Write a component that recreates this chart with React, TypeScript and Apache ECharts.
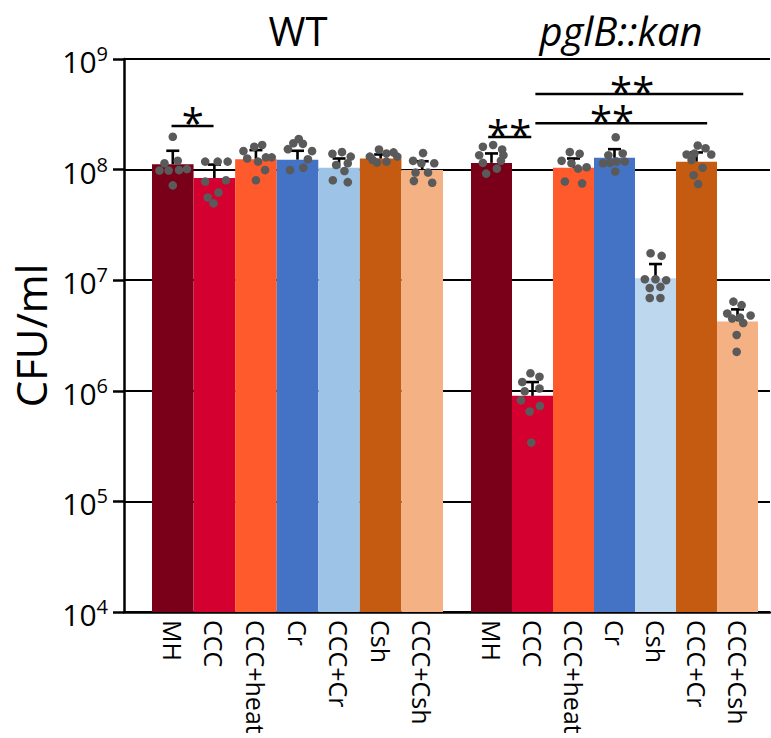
import React, { useEffect, useRef } from "react";
import * as echarts from "echarts";

const FONT = "'Open Sans', 'Noto Sans', sans-serif";

// ---------- data ----------
const groupTitles = ["WT", "pglB::kan"];
const wtCategories = ["MH", "CCC", "CCC+heat", "Cr", "CCC+Cr", "Csh", "CCC+Csh"];
const pglbCategories = ["MH", "CCC", "CCC+heat", "Cr", "Csh", "CCC+Cr", "CCC+Csh"];

const wtColors = ["#7a0019", "#d4002f", "#ff5a2b", "#4472c4", "#9dc3e6", "#c55a11", "#f4b183"];
const pglbColors = ["#7a0019", "#d4002f", "#ff5a2b", "#4472c4", "#bdd7ee", "#c55a11", "#f4b183"];

// bar heights (CFU/ml) and upper end of error bars
const wtMeans = [1.12e8, 8.4e7, 1.24e8, 1.23e8, 1.04e8, 1.26e8, 9.9e7];
const wtErrorTops = [1.48e8, 1.11e8, 1.5e8, 1.48e8, 1.26e8, 1.37e8, 1.19e8];
const pglbMeans = [1.15e8, 9.0e5, 1.04e8, 1.28e8, 1.04e7, 1.18e8, 4.24e6];
const pglbErrorTops = [1.4e8, 1.2e6, 1.26e8, 1.53e8, 1.4e7, 1.43e8, 5.45e6];

// individual replicates: [category index, CFU/ml, jitter within bar]
const wtPoints: [number, number, number][] = [
  [0, 1.98e8, 0.0], [0, 1.2e8, 0.12], [0, 1.14e8, -0.2], [0, 9.8e7, -0.32], [0, 9.9e7, 0.15], [0, 1.01e8, 0.34], [0, 7.2e7, 0.0], [0, 9.8e7, -0.1],
  [1, 1.18e8, -0.22], [1, 1.18e8, 0.08], [1, 1.18e8, 0.32], [1, 7.8e7, -0.22], [1, 8.0e7, 0.28], [1, 6.2e7, 0.1], [1, 5.6e7, -0.16], [1, 4.95e7, -0.02],
  [2, 1.47e8, -0.3], [2, 1.61e8, -0.04], [2, 1.67e8, 0.15], [2, 1.26e8, -0.21], [2, 1.18e8, 0.05], [2, 1.29e8, 0.24], [2, 1.29e8, 0.38], [2, 9.9e7, 0.22], [2, 8.0e7, 0.0],
  [3, 1.53e8, -0.23], [3, 1.73e8, -0.1], [3, 1.89e8, 0.03], [3, 1.71e8, 0.13], [3, 1.47e8, 0.35], [3, 1.24e8, 0.25], [3, 9.9e7, -0.18], [3, 1.04e8, 0.14],
  [4, 1.39e8, -0.16], [4, 1.44e8, 0.07], [4, 1.31e8, 0.28], [4, 1.1e8, -0.07], [4, 1.14e8, 0.21], [4, 9.7e7, 0.13], [4, 8.0e7, -0.15], [4, 7.7e7, 0.21],
  [5, 1.31e8, -0.26], [5, 1.52e8, -0.04], [5, 1.4e8, 0.14], [5, 1.43e8, 0.31], [5, 1.31e8, 0.4], [5, 1.16e8, -0.09], [5, 1.18e8, 0.14], [5, 1.22e8, -0.19],
  [6, 1.2e8, -0.22], [6, 1.41e8, 0.02], [6, 1.14e8, 0.29], [6, 9.4e7, -0.16], [6, 9.4e7, 0.14], [6, 7.9e7, -0.2], [6, 7.6e7, 0.24], [6, 1.14e8, -0.02],
];
const pglbPoints: [number, number, number][] = [
  [0, 1.61e8, -0.21], [0, 1.67e8, 0.04], [0, 1.52e8, 0.26], [0, 1.35e8, -0.3], [0, 1.35e8, 0.29], [0, 1.2e8, 0.23], [0, 1.15e8, -0.21], [0, 1.02e8, 0.13], [0, 9.2e7, -0.13],
  [1, 1.44e6, -0.05], [1, 1.34e6, 0.17], [1, 1.2e6, -0.25], [1, 9.9e5, -0.19], [1, 1.05e6, 0.17], [1, 8.2e5, -0.28], [1, 6.5e5, -0.07], [1, 7.3e5, 0.18], [1, 3.4e5, -0.03],
  [2, 1.44e8, -0.09], [2, 1.2e8, -0.29], [2, 1.39e8, 0.15], [2, 1.14e8, -0.05], [2, 1.02e8, 0.11], [2, 1.05e8, 0.32], [2, 7.8e7, -0.21], [2, 7.5e7, 0.21],
  [3, 1.96e8, 0.03], [3, 1.35e8, -0.15], [3, 1.4e8, 0.2], [3, 1.14e8, -0.28], [3, 1.15e8, -0.11], [3, 1.18e8, 0.05], [3, 1.18e8, 0.25], [3, 9.6e7, 0.02],
  [4, 1.75e7, -0.12], [4, 1.66e7, 0.15], [4, 1.02e7, -0.26], [4, 1.02e7, 0.0], [4, 1.0e7, 0.26], [4, 8.5e6, -0.14], [4, 8.7e6, 0.12], [4, 6.9e6, -0.14], [4, 6.9e6, 0.12],
  [5, 1.65e8, 0.03], [5, 1.56e8, 0.22], [5, 1.37e8, -0.24], [5, 1.37e8, 0.36], [5, 1.22e8, -0.12], [5, 1.04e8, 0.15], [5, 8.9e7, -0.07], [5, 7.4e7, 0.04], [5, 1.4e8, -0.05],
  [6, 6.4e6, -0.1], [6, 5.95e6, 0.1], [6, 5.0e6, -0.25], [6, 4.5e6, -0.13], [6, 4.6e6, 0.06], [6, 4.8e6, 0.32], [6, 4.1e6, 0.14], [6, 3.2e6, -0.02], [6, 2.25e6, -0.02],
];

// significance brackets: [anchor category, level (CFU/ml), from position, to position, label position]
const wtSignificance: number[][] = [[0, 2.48e8, -0.03, 0.98, 0.48]];
const wtSignificanceLabels = ["*"];
const pglbSignificance: number[][] = [
  [0, 1.97e8, -0.08, 0.97, 0.43],
  [0, 2.62e8, 1.07, 5.26, 2.94],
  [0, 4.82e8, 1.07, 6.14, 3.43],
];
const pglbSignificanceLabels = ["**", "**", "**"];

const yMin = 1e4;
const yMax = 1e9;

// ---------- helpers ----------
function bandWidth(api: any, v: number) {
  return api.coord([1, v])[0] - api.coord([0, v])[0];
}

function barSeries(axis: number, means: number[], colors: string[]) {
  return {
    type: "custom",
    xAxisIndex: axis,
    yAxisIndex: axis,
    data: means.map((m, i) => [i, m]),
    encode: { x: 0, y: 1 },
    z: 2,
    renderItem: (params: any, api: any) => {
      const i = api.value(0);
      const v = api.value(1);
      const top = api.coord([i, v]);
      const bottom = api.coord([i, yMin]);
      const bw = bandWidth(api, v);
      return {
        type: "rect",
        shape: { x: top[0] - bw / 2, y: top[1], width: bw, height: bottom[1] - top[1] },
        style: { fill: colors[params.dataIndex] },
      };
    },
  };
}

function errorSeries(axis: number, means: number[], tops: number[]) {
  return {
    type: "custom",
    xAxisIndex: axis,
    yAxisIndex: axis,
    data: means.map((m, i) => [i, m, tops[i]]),
    encode: { x: 0, y: 1 },
    z: 3,
    renderItem: (params: any, api: any) => {
      const i = api.value(0);
      const a = api.coord([i, api.value(1)]);
      const b = api.coord([i, api.value(2)]);
      const cap = 6.5;
      const st = { stroke: "#000", lineWidth: 2.6 };
      return {
        type: "group",
        children: [
          { type: "line", shape: { x1: a[0], y1: a[1], x2: b[0], y2: b[1] }, style: st },
          { type: "line", shape: { x1: b[0] - cap, y1: b[1], x2: b[0] + cap, y2: b[1] }, style: st },
        ],
      };
    },
  };
}

function pointSeries(axis: number, points: [number, number, number][]) {
  return {
    type: "custom",
    xAxisIndex: axis,
    yAxisIndex: axis,
    data: points,
    encode: { x: 0, y: 1 },
    z: 4,
    renderItem: (params: any, api: any) => {
      const v = api.value(1);
      const c = api.coord([api.value(0), v]);
      const bw = bandWidth(api, v);
      return {
        type: "circle",
        shape: { cx: c[0] + api.value(2) * bw, cy: c[1], r: 4.3 },
        style: { fill: "#5a5a5a" },
      };
    },
  };
}

function significanceSeries(axis: number, rows: number[][], labels: string[]) {
  return {
    type: "custom",
    xAxisIndex: axis,
    yAxisIndex: axis,
    data: rows,
    encode: { x: 0, y: 1 },
    z: 5,
    renderItem: (params: any, api: any) => {
      const level = api.value(1);
      const x0 = api.coord([0, level])[0];
      const y = api.coord([0, level])[1];
      const bw = bandWidth(api, level);
      const xa = x0 + api.value(2) * bw;
      const xb = x0 + api.value(3) * bw;
      const xl = x0 + api.value(4) * bw;
      return {
        type: "group",
        children: [
          { type: "line", shape: { x1: xa, y1: y, x2: xb, y2: y }, style: { stroke: "#000", lineWidth: 2.5 } },
          {
            type: "text",
            x: xl,
            y: y - 3,
            style: {
              text: labels[params.dataIndex],
              fontSize: 40,
              lineHeight: 12,
              fontFamily: FONT,
              fill: "#000",
              align: "center",
              verticalAlign: "middle",
            },
          },
        ],
      };
    },
  };
}

const gridTop = 59;
const gridBottom = 126;

function hiddenLogAxis(gridIndex: number) {
  return { type: "log", logBase: 10, min: yMin, max: yMax, gridIndex, show: false };
}

function categoryAxis(gridIndex: number, data: string[]) {
  return {
    type: "category",
    gridIndex,
    data,
    axisLine: { show: false },
    axisTick: { show: false },
    splitLine: { show: false },
    axisLabel: {
      rotate: -90,
      interval: 0,
      margin: 8,
      fontSize: 25,
      fontFamily: FONT,
      color: "#000",
    },
  };
}

export default function App() {
  const ref = useRef<HTMLDivElement>(null);
  useEffect(() => {
    if (!ref.current) return;
    const chart = echarts.init(ref.current, null, { renderer: "svg" });
    const option: any = {
      animation: false,
      backgroundColor: "#fff",
      textStyle: { fontFamily: FONT },
      title: [
        {
          text: groupTitles[0],
          left: 298,
          top: 10,
          padding: 0,
          textAlign: "center",
          textStyle: { fontSize: 40, fontWeight: "normal", color: "#000", fontFamily: FONT },
        },
        {
          text: groupTitles[1],
          left: 621,
          top: 10,
          padding: 0,
          textAlign: "center",
          textStyle: { fontSize: 40, fontWeight: "normal", fontStyle: "italic", color: "#000", fontFamily: FONT },
        },
      ],
      grid: [
        { left: 124, right: 1, top: gridTop, bottom: gridBottom },
        { left: 152, width: 291, top: gridTop, bottom: gridBottom },
        { left: 471, width: 287, top: gridTop, bottom: gridBottom },
      ],
      xAxis: [
        {
          type: "value",
          gridIndex: 0,
          min: 0,
          max: 1,
          axisLine: { show: true, onZero: false, lineStyle: { color: "#000", width: 2.5 } },
          axisTick: { show: false },
          axisLabel: { show: false },
          splitLine: { show: false },
        },
        categoryAxis(1, wtCategories),
        categoryAxis(2, pglbCategories),
      ],
      yAxis: [
        {
          type: "log",
          logBase: 10,
          min: yMin,
          max: yMax,
          gridIndex: 0,
          name: "CFU/ml",
          nameLocation: "middle",
          nameGap: 60,
          nameTextStyle: { fontSize: 42, color: "#000", fontFamily: FONT },
          axisLine: { show: true, lineStyle: { color: "#000", width: 2.5 } },
          axisTick: { show: true, inside: false, length: 11, lineStyle: { color: "#000", width: 2.5 } },
          minorTick: { show: false },
          splitLine: { show: true, lineStyle: { color: "#000", width: 2 } },
          axisLabel: {
            margin: 16,
            padding: [5, 0, 0, 0],
            formatter: (v: number) => `{b|10}{s|${Math.round(Math.log10(v))}}`,
            rich: {
              b: { fontSize: 30, lineHeight: 36, color: "#000", fontFamily: FONT },
              s: { fontSize: 20, lineHeight: 24, verticalAlign: "top", color: "#000", fontFamily: FONT },
            },
          },
        },
        hiddenLogAxis(1),
        hiddenLogAxis(2),
      ],
      series: [
        barSeries(1, wtMeans, wtColors),
        errorSeries(1, wtMeans, wtErrorTops),
        pointSeries(1, wtPoints),
        significanceSeries(1, wtSignificance, wtSignificanceLabels),
        barSeries(2, pglbMeans, pglbColors),
        errorSeries(2, pglbMeans, pglbErrorTops),
        pointSeries(2, pglbPoints),
        significanceSeries(2, pglbSignificance, pglbSignificanceLabels),
      ],
    };
    chart.setOption(option);
    return () => chart.dispose();
  }, []);
  return <div ref={ref} style={{ position: "fixed", left: 0, top: 0, width: 771, height: 738 }} />;
}
